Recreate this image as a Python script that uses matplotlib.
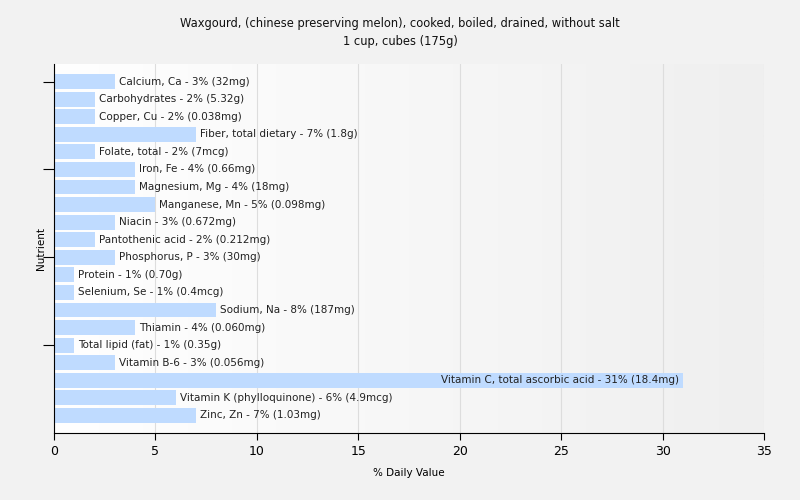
"""
Horizontal bar chart of % daily value for cooked waxgourd.
"""
import numpy as np
import matplotlib
matplotlib.use('Agg')
import matplotlib.pyplot as plt

# nutrient names, % daily values and amounts
NUTRIENTS = ['Calcium, Ca', 'Carbohydrates', 'Copper, Cu', 'Fiber, total dietary',
             'Folate, total', 'Iron, Fe', 'Magnesium, Mg', 'Manganese, Mn', 'Niacin',
             'Pantothenic acid', 'Phosphorus, P', 'Protein', 'Selenium, Se',
             'Sodium, Na', 'Thiamin', 'Total lipid (fat)', 'Vitamin B-6',
             'Vitamin C, total ascorbic acid', 'Vitamin K (phylloquinone)', 'Zinc, Zn']
VALUES = [3, 2, 2, 7, 2, 4, 4, 5, 3, 2, 3, 1, 1, 8, 4, 1, 3, 31, 6, 7]
AMOUNTS = ['32mg', '5.32g', '0.038mg', '1.8g', '7mcg', '0.66mg', '18mg', '0.098mg',
           '0.672mg', '0.212mg', '30mg', '0.70g', '0.4mcg', '187mg', '0.060mg',
           '0.35g', '0.056mg', '18.4mg', '4.9mcg', '1.03mg']
TITLE = 'Waxgourd, (chinese preserving melon), cooked, boiled, drained, without salt\n1 cup, cubes (175g)'

BG = '#f2f2f2'
BAR = '#bfdbff'
XMAX = 35

fig = plt.figure(figsize=(8, 5), dpi=100, facecolor=BG)
ax = fig.add_axes([0.0675, 0.134, 0.8875, 0.738])

# gradient background of the plot area
grad = np.linspace(0, 1, 256).reshape(1, -1)
cmap = matplotlib.colors.LinearSegmentedColormap.from_list('bg', ['#ffffff', '#efefef'])
ax.imshow(grad, aspect='auto', cmap=cmap, extent=[0, XMAX, len(NUTRIENTS), -1], zorder=0)

pos = np.arange(len(NUTRIENTS))
ax.barh(pos, VALUES, height=0.85, color=BAR, zorder=2)
for y, v, n, a in zip(pos, VALUES, NUTRIENTS, AMOUNTS):
    label = f'{n} - {v}% ({a})'
    # long bars get their label inside, right-aligned at the bar end
    if v > 20:
        ax.text(v - 0.2, y, label, va='center', ha='right',
                fontsize=7.5, color='#222222', zorder=3)
    else:
        ax.text(v + 0.2, y, label, va='center', ha='left',
                fontsize=7.5, color='#222222', zorder=3)

ax.set_xlim(0, XMAX)
ax.set_ylim(len(NUTRIENTS), -1)
ax.set_xticks(range(0, XMAX + 1, 5))
ax.set_yticks([0, 5, 10, 15])
ax.set_yticklabels([])
ax.grid(axis='x', color='#dddddd', linewidth=0.8, zorder=1)
ax.set_axisbelow(True)
for s in ['top', 'right']:
    ax.spines[s].set_visible(False)
ax.tick_params(axis='x', labelsize=9, length=5)
ax.tick_params(axis='y', length=8)

ax.set_xlabel('% Daily Value', fontsize=7.5, labelpad=7)
ax.set_ylabel('Nutrient', fontsize=7.5, labelpad=-6)
fig.suptitle(TITLE, fontsize=8.3, y=0.965, color='#111111', linespacing=1.5)

plt.savefig('out.png', dpi=100, facecolor=BG)
